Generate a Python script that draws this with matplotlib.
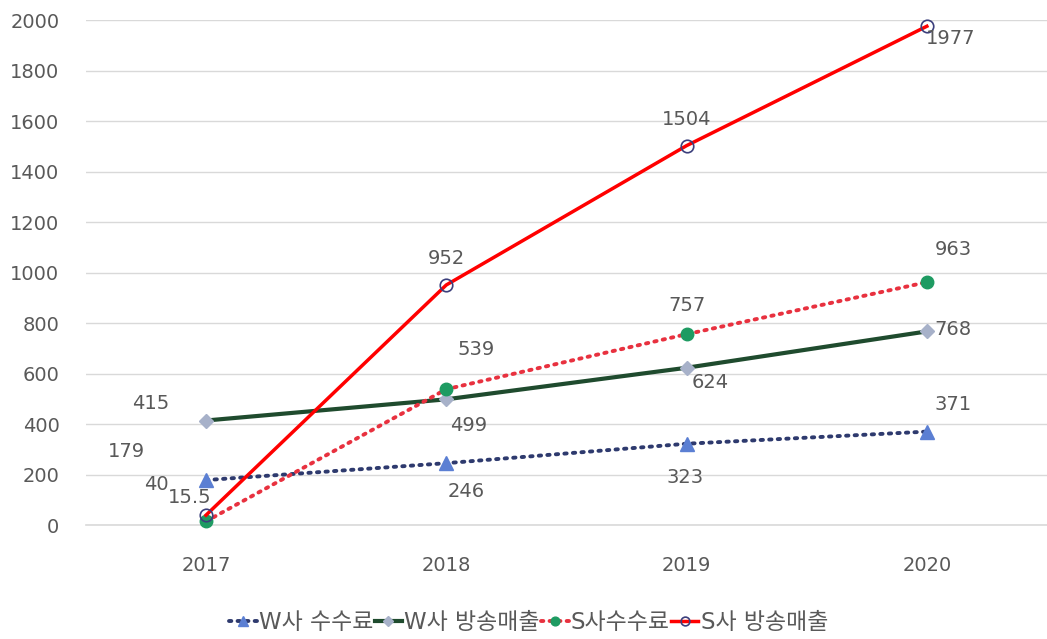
import matplotlib.pyplot as plt

plt.rcParams['font.family'] = ['DejaVu Sans', 'Noto Sans CJK KR']

years = ['2017', '2018', '2019', '2020']
w_fee = [179, 246, 323, 371]
w_sales = [415, 499, 624, 768]
s_fee = [15.5, 539, 757, 963]
s_sales = [40, 952, 1504, 1977]
labels = ['W사 수수료', 'W사 방송매출', 'S사수수료', 'S사 방송매출']

txt = '#595959'
fig = plt.figure(figsize=(10.47, 6.39), dpi=100)
ax = fig.add_axes([0.082, 0.178, 0.918, 0.79])
x = range(len(years))

ax.plot(x, w_fee, color='#2E3A6E', lw=2.8, ls=(0, (0.6, 1.6)), dash_capstyle='round',
        marker='^', ms=10, mfc='#5B7FD3', mec='#5B7FD3', label=labels[0], clip_on=False, zorder=3)
ax.plot(x, w_sales, color='#1F4B2E', lw=3, marker='D', ms=7, mfc='#A7B1C9', mec='#A7B1C9',
        label=labels[1], clip_on=False, zorder=3)
ax.plot(x, s_fee, color='#E8313F', lw=2.8, ls=(0, (0.6, 1.6)), dash_capstyle='round',
        marker='o', ms=9, mfc='#1E9B62', mec='#1E9B62', label=labels[2], clip_on=False, zorder=4)
ax.plot(x, s_sales, color='#FF0000', lw=2.5, marker='o', ms=9, mfc='none', mec='#3C3F7C',
        mew=1.2, label=labels[3], clip_on=False, zorder=5)

# data labels, offsets in pixels from each point
offs = {
    0: [(-80, 29), (20, -28), (-2, -34), (26, 27)],
    1: [(-55, 17), (22, -26), (24, -15), (26, 2)],
    2: [(-16, 24), (30, 40), (0, 29), (26, 33)],
    3: [(-50, 31), (0, 26), (0, 26), (24, -12)],
}
for i, ser in enumerate([w_fee, w_sales, s_fee, s_sales]):
    for j, v in enumerate(ser):
        dx, dy = offs[i][j]
        ax.annotate(f'{v:g}', (j, v), xytext=(dx, dy), textcoords='offset pixels',
                    ha='center', va='center', fontsize=14, color=txt, zorder=6)

ax.set_xlim(-0.5, 3.5)
ax.set_ylim(0, 2000)
ax.set_yticks(range(0, 2001, 200))
ax.set_xticks(list(x))
ax.set_xticklabels(years)
ax.tick_params(axis='both', length=0, labelsize=14, colors=txt)
ax.tick_params(axis='y', pad=19)
ax.tick_params(axis='x', pad=22)
ax.grid(axis='y', color='#D9D9D9', lw=1)
ax.axhline(0, color='#D9D9D9', lw=1.2, clip_on=False, zorder=1)
ax.set_axisbelow(True)
for s in ax.spines.values():
    s.set_visible(False)

fig.legend(loc='lower center', bbox_to_anchor=(0.505, -0.025), ncol=4, frameon=False,
           fontsize=16.5, labelcolor=txt, handlelength=1.2, handletextpad=0.1, columnspacing=0.05,
           markerscale=0.7)

fig.savefig('out.png', dpi=100)
